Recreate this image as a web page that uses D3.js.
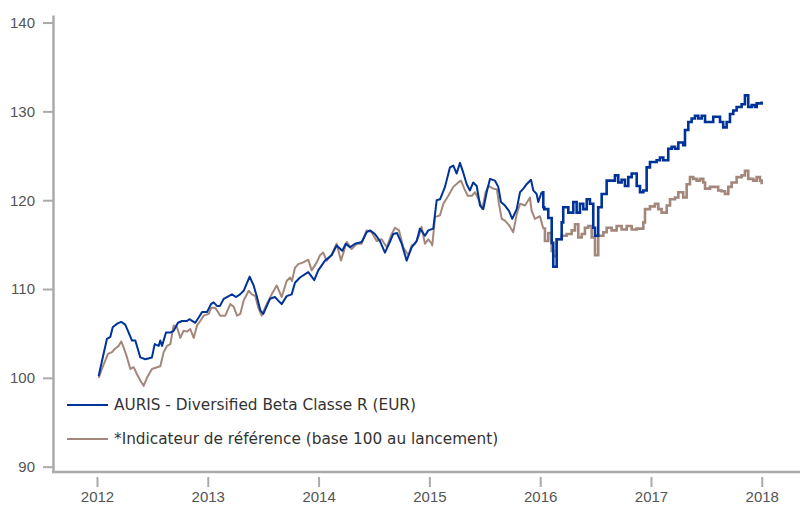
<!DOCTYPE html>
<html>
<head>
<meta charset="utf-8">
<script src="https://cdn.jsdelivr.net/npm/d3@7"></script>
<style>
  body { margin: 0; background: #fff; }
  svg { font-family: Lato, "Open Sans", sans-serif; }
  .axis path, .axis line { stroke: #aaa; }
  .axis text { fill: #555; font-size: 15px; }
  .legend text { fill: #333; font-size: 15.3px; font-family: "DejaVu Sans", sans-serif; }
</style>
</head>
<body>
<div id="chart"></div>
<script>
// series names
const seriesNames = ['AURIS - Diversified Beta Classe R (EUR)', '*Indicateur de référence (base 100 au lancement)'];

// fund (decimal years / values)
const fundYears = [2012.015,2012.045,2012.090,2012.120,2012.142,2012.181,2012.219,2012.255,2012.286,2012.316,2012.346,2012.391,2012.436,2012.496,2012.521,2012.557,2012.571,2012.587,2012.623,2012.662,2012.692,2012.731,2012.767,2012.812,2012.833,2012.887,2012.918,2012.948,2012.993,
  2013.029,2013.053,2013.083,2013.110,2013.144,2013.189,2013.218,2013.255,2013.291,2013.324,2013.354,2013.378,2013.414,2013.444,2013.474,2013.501,2013.561,2013.606,2013.636,2013.667,2013.712,2013.757,2013.787,2013.832,2013.907,2013.961,2013.997,
  2014.058,2014.118,2014.163,2014.214,2014.245,2014.283,2014.329,2014.389,2014.434,2014.464,2014.509,2014.554,2014.599,2014.644,2014.674,2014.708,2014.750,2014.795,2014.840,2014.885,2014.915,2014.960,2014.990,
  2015.035,2015.066,2015.096,2015.141,2015.186,2015.216,2015.246,2015.276,2015.306,2015.337,2015.366,2015.396,2015.427,2015.457,2015.487,2015.517,2015.547,2015.592,2015.622,2015.646,2015.682,2015.718,2015.748,2015.788,2015.818,2015.848,2015.878,2015.917,2015.938,2015.968,2015.983,
  2016.013,2016.028,2016.037,2016.073,2016.104,2016.118,2016.149,2016.194,2016.208,2016.254,2016.299,2016.329,2016.359,2016.389,2016.420,2016.449,2016.479,2016.495,2016.524,2016.555,2016.600,2016.639,2016.675,2016.705,2016.735,2016.765,2016.795,2016.826,2016.871,2016.901,2016.931,2016.961,2016.991,
  2017.051,2017.081,2017.111,2017.156,2017.187,2017.217,2017.247,2017.277,2017.291,2017.307,2017.337,2017.367,2017.397,2017.427,2017.458,2017.488,2017.533,2017.562,2017.593,2017.623,2017.652,2017.683,2017.713,2017.743,2017.773,2017.818,2017.848,2017.878,2017.909,2017.939,2017.954,2017.999];
const fundValues = [100.2,101.9,104.4,104.6,105.7,106.1,106.3,106.0,105.1,104.2,104.2,102.3,102.1,102.3,103.8,103.6,104.2,103.6,105.1,105.1,105.3,106.2,106.4,106.4,106.6,106.2,106.8,107.4,107.4,
  108.3,108.5,108.1,108.1,108.9,109.2,109.4,109.1,109.4,109.8,110.7,111.4,110.4,109.1,107.6,107.2,108.9,109.1,108.7,108.3,109.2,109.4,110.7,111.3,111.9,111.0,112.1,
  113.2,113.8,114.9,114.3,115.1,114.7,115.1,115.3,116.4,116.6,116.2,115.4,114.1,115.3,116.2,116.3,115.1,113.2,114.7,115.4,116.8,116.0,116.6,
  116.8,120.0,120.1,121.5,123.7,123.9,123.0,124.2,123.1,121.8,121.1,122.0,121.6,119.4,119.0,120.9,122.4,122.2,121.5,119.8,119.4,118.8,117.9,119.0,120.9,121.3,121.8,122.3,121.1,120.7,119.8,
  120.9,119.2,119.0,118.0,115.2,112.5,115.6,117.5,119.2,118.6,119.8,118.6,119.6,119.0,120.1,119.6,116.9,116.0,119.2,120.7,122.2,122.2,122.8,122.0,122.3,121.6,122.6,123.0,121.6,120.9,121.1,123.7,124.3,
  124.5,124.8,124.5,125.8,126.0,125.8,126.5,126.5,126.2,127.9,128.8,129.2,129.5,129.2,129.5,128.8,128.8,129.4,129.4,128.8,128.2,128.8,129.7,130.1,130.5,130.8,131.8,130.5,130.7,130.5,130.9,131.1];

// benchmark (decimal years / values)
const benchYears = [2012.015,2012.060,2012.099,2012.135,2012.165,2012.196,2012.219,2012.241,2012.271,2012.301,2012.331,2012.361,2012.391,2012.421,2012.451,2012.496,2012.542,2012.571,2012.602,2012.632,2012.662,2012.692,2012.722,2012.752,2012.782,2012.812,2012.842,2012.873,2012.903,2012.932,2012.963,
  2013.008,2013.032,2013.068,2013.113,2013.158,2013.203,2013.234,2013.264,2013.293,2013.324,2013.369,2013.399,2013.429,2013.456,2013.486,2013.532,2013.577,2013.622,2013.667,2013.712,2013.742,2013.760,2013.787,2013.817,2013.862,2013.907,2013.938,2013.983,
  2014.013,2014.042,2014.073,2014.118,2014.163,2014.202,2014.254,2014.299,2014.344,2014.389,2014.434,2014.479,2014.524,2014.569,2014.615,2014.660,2014.690,2014.726,2014.764,2014.810,2014.840,2014.870,2014.900,2014.930,2014.960,2014.990,
  2015.021,2015.026,2015.051,2015.096,2015.126,2015.171,2015.216,2015.261,2015.285,2015.315,2015.346,2015.384,2015.412,2015.448,2015.477,2015.508,2015.532,2015.577,2015.610,2015.628,2015.653,2015.682,2015.718,2015.757,2015.788,2015.818,2015.863,2015.908,2015.923,2015.953,2015.998,
  2016.028,2016.043,2016.073,2016.104,2016.118,2016.149,2016.194,2016.239,2016.284,2016.314,2016.344,2016.375,2016.404,2016.434,2016.465,2016.495,2016.524,2016.570,2016.600,2016.645,2016.690,2016.735,2016.781,2016.826,2016.871,2016.901,2016.931,2016.946,2016.991,
  2017.036,2017.066,2017.096,2017.142,2017.172,2017.217,2017.247,2017.277,2017.291,2017.322,2017.352,2017.382,2017.412,2017.442,2017.472,2017.488,2017.533,2017.578,2017.607,2017.638,2017.668,2017.698,2017.728,2017.773,2017.818,2017.848,2017.878,2017.923,2017.954,2017.984,2017.999];
const benchValues = [100.0,101.5,102.7,102.9,103.3,103.6,104.1,103.4,102.3,101.0,101.2,100.4,99.7,99.1,100.0,101.0,101.2,101.3,102.9,103.6,103.8,105.9,105.7,104.5,105.3,105.2,105.5,104.5,105.9,106.4,107.0,
  107.2,107.9,107.9,107.0,107.0,108.3,108.0,107.0,107.2,108.7,109.8,109.4,109.2,107.9,107.0,108.3,109.4,110.4,109.1,110.9,111.3,110.9,112.4,112.8,113.0,113.3,112.1,113.0,
  113.8,114.1,113.2,113.9,115.1,113.2,115.3,114.5,115.1,115.1,116.6,116.4,115.4,115.6,114.7,116.2,116.9,116.6,114.7,113.8,114.9,115.1,115.8,117.0,115.1,115.6,
  115.1,114.9,118.1,118.3,119.6,120.5,121.5,122.0,122.2,121.3,120.5,120.5,120.9,120.0,119.0,120.9,121.6,121.3,121.2,119.6,117.9,117.7,117.2,116.4,118.4,119.6,119.4,120.3,118.8,117.9,118.2,
  116.8,115.4,116.3,114.3,113.7,115.6,116.0,116.2,116.6,117.3,115.8,116.2,116.9,117.1,115.8,113.8,116.0,116.4,116.9,116.6,117.1,116.7,117.1,116.7,116.8,116.8,117.5,119.0,119.3,
  119.6,119.0,118.6,119.4,120.1,120.3,120.9,120.9,120.3,121.8,122.6,122.4,122.2,122.4,122.0,121.3,121.5,121.5,121.1,121.0,120.7,121.5,122.0,122.6,122.8,123.3,122.4,122.2,122.6,122.2,121.8];

const yTicks = [90, 100, 110, 120, 130, 140];
const xTicks = [2012, 2013, 2014, 2015, 2016, 2017, 2018];
const colors = ['#003399', '#a3877a'];

const dms = { width: 800, height: 507 };

const svg = d3.select('#chart').append('svg')
    .attr('width', dms.width)
    .attr('height', dms.height);

const x = d3.scaleLinear().domain([2011.603, 2018.345]).range([53, 800]);
const y = d3.scaleLinear().domain([89.4, 140.85]).range([472, 15]);

// y axis
const yAxis = svg.append('g')
    .attr('class', 'axis')
    .attr('transform', 'translate(53,0)')
    .call(d3.axisLeft(y).tickValues(yTicks).tickSize(10).tickSizeOuter(0).tickPadding(8));
yAxis.select('.domain').attr('stroke-width', 2.5);
yAxis.selectAll('.tick line').attr('stroke-width', 2);

// x axis: line then detached ticks
svg.append('line')
    .attr('x1', 52).attr('x2', 800)
    .attr('y1', 472).attr('y2', 472)
    .attr('stroke', '#aaa').attr('stroke-width', 2.5);

const xAxis = svg.append('g')
    .attr('class', 'axis')
    .attr('transform', 'translate(0,477)')
    .call(d3.axisBottom(x).tickValues(xTicks).tickFormat(d3.format('d')).tickSize(10).tickPadding(4));
xAxis.select('.domain').remove();
xAxis.selectAll('.tick line').attr('stroke-width', 2);

// lines: linear before 2016, stepped afterwards
function drawSeries(years, values, color){
    const pts = years.map((t, i) => [t, values[i]]);
    const cut = pts.findIndex(p => p[0] >= 2016);
    const early = pts.slice(0, cut + 1);
    const late = pts.slice(cut);
    svg.append('path')
        .datum(early)
        .attr('fill', 'none')
        .attr('stroke', color)
        .attr('stroke-width', 2)
        .attr('stroke-linejoin', 'round')
        .attr('d', d3.line().x(d => x(d[0])).y(d => y(d[1])));
    svg.append('path')
        .datum(late)
        .attr('fill', 'none')
        .attr('stroke', color)
        .attr('stroke-width', 2.6)
        .attr('d', d3.line().curve(d3.curveStepAfter).x(d => x(d[0])).y(d => y(d[1])));
}
drawSeries(benchYears, benchValues, colors[1]);
drawSeries(fundYears, fundValues, colors[0]);

// legend
const legend = svg.append('g').attr('class', 'legend');
seriesNames.forEach((name, i) => {
    const ly = 405 + i * 34;
    legend.append('line')
        .attr('x1', 67).attr('x2', 108)
        .attr('y1', ly).attr('y2', ly)
        .attr('stroke', colors[i]).attr('stroke-width', 2);
    legend.append('text')
        .attr('x', 114).attr('y', ly)
        .attr('dy', '0.35em')
        .text(name);
});
</script>
</body>
</html>
